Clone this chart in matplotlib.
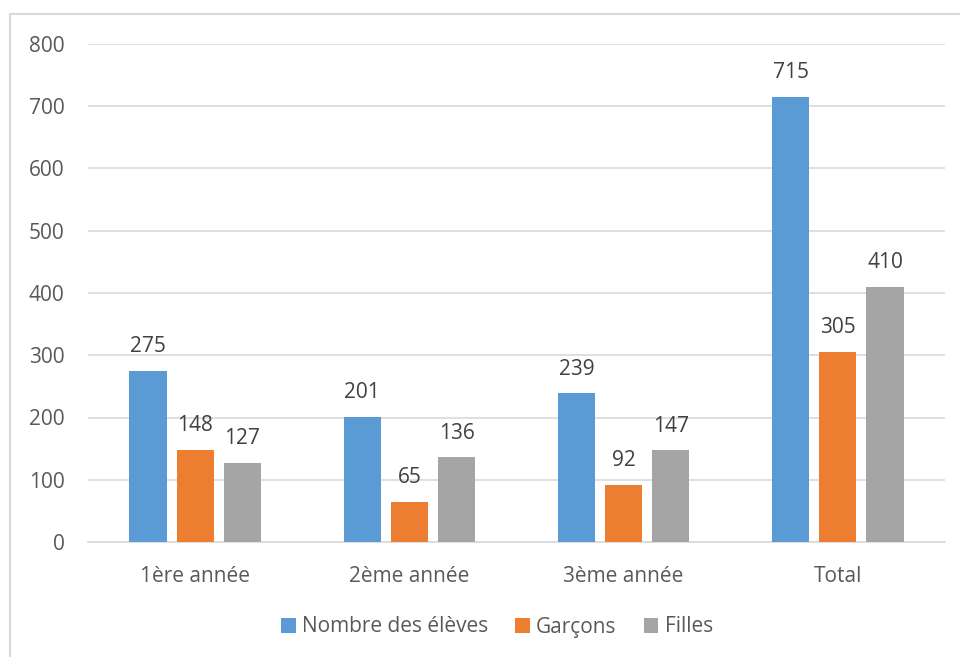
import numpy as np
import matplotlib.pyplot as plt
from matplotlib.patches import Rectangle

categories = ['1ère année', '2ème année', '3ème année', 'Total']
series_names = ['Nombre des élèves', 'Garçons', 'Filles']
eleves = [275, 201, 239, 715]
garcons = [148, 65, 92, 305]
filles = [127, 136, 147, 410]
colors = ['#5B9BD5', '#ED7D31', '#A5A5A5']

plt.rcParams['font.family'] = ['Open Sans', 'DejaVu Sans']
txt = '#595959'
fs = 15

fig = plt.figure(figsize=(9.6, 6.57), dpi=100)
# chart area border (right and bottom edges fall outside the image)
fig.patches.append(Rectangle((10/960, -0.1), 1, 1.1 - 14/657, transform=fig.transFigure,
                             fill=False, edgecolor='#d9d9d9', linewidth=1.5))

ax = fig.add_axes([88/960, 1 - 542/657, (945-88)/960, (542-44)/657])
x = np.arange(len(categories))
w = 0.173
step = 0.22
for i, (vals, name) in enumerate(zip([eleves, garcons, filles], series_names)):
    pos = x + (i - 1) * step
    ax.bar(pos, vals, w, color=colors[i], label=name, zorder=3)
    for p, v in zip(pos, vals):
        ax.text(p, v + 22, str(v), ha='center', va='bottom', fontsize=fs, color='#404040')

ax.set_xlim(-0.5, 3.5)
ax.set_ylim(0, 800)
ax.set_yticks(range(0, 801, 100))
ax.set_xticks(x)
ax.set_xticklabels(categories)
ax.tick_params(axis='both', length=0, labelsize=fs, labelcolor=txt)
ax.tick_params(axis='y', pad=17)
ax.tick_params(axis='x', pad=17)
ax.grid(axis='y', color='#d9d9d9', linewidth=1.2, zorder=0)
for s in ['top', 'right', 'left']:
    ax.spines[s].set_visible(False)
ax.spines['bottom'].set_color('#d9d9d9')
ax.spines['bottom'].set_linewidth(1.2)

fig.legend(loc='center', bbox_to_anchor=(497/960, 1 - 627/657), ncol=3, frameon=False,
           fontsize=fs, labelcolor=txt, handlelength=0.7, handleheight=0.7,
           handletextpad=0.3, columnspacing=1.3)

fig.savefig('out.png', dpi=100)
